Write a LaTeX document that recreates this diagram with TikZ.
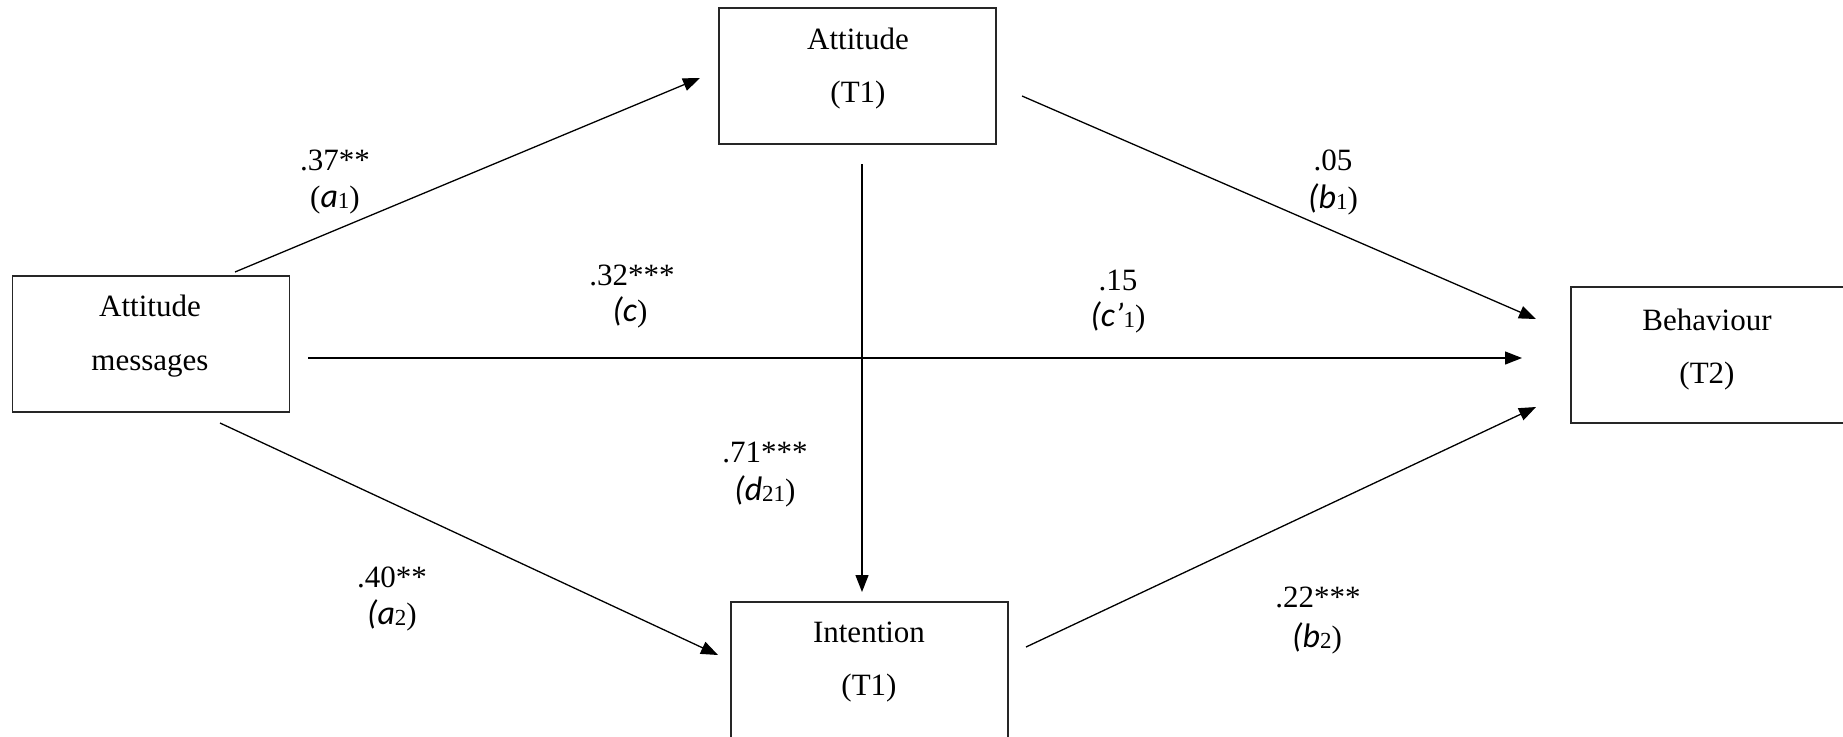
\documentclass[tikz,border=0pt]{standalone}
\usepackage{fontspec}
\setmainfont{Liberation Serif}
\newfontfamily\calibfont{Carlito}
\usetikzlibrary{arrows.meta}
\newcommand{\iv}[1]{{\fontsize{34}{36}\selectfont\calibfont\itshape #1}}
\newcommand{\sbs}[1]{\raisebox{-1pt}{\fontsize{23}{23}\selectfont #1}}
\begin{document}
\begin{tikzpicture}[x=1pt,y=-1pt,
  box/.style={draw=black!85, line width=1.5pt, minimum width=277pt, minimum height=136pt, inner sep=0pt},
  txt/.style={anchor=base, inner sep=0pt, font=\fontsize{31}{36}\selectfont},
  arr/.style={line width=1.3pt, -{Triangle[length=17pt,width=13pt]}}]
\path[use as bounding box, clip] (0,0) rectangle (1843,736);
\fill[white] (0,0) rectangle (1843,736);

% boxes
\node[box] (att) at (857.5,76) {};
\node[box] (msg) at (151,344) {};
\node[box] (beh) at (1709.5,355) {};
\node[box] (int) at (869.5,670) {};

% box texts
\node[txt] (attA) at (858,49) {Attitude};
\node[txt] (attB) at (858,102) {(T1)};
\node[txt] (msgA) at (150,316) {Attitude};
\node[txt] (msgB) at (150,370) {messages};
\node[txt] (behA) at (1707,330) {Behaviour};
\node[txt] (behB) at (1707,383) {(T2)};
\node[txt] (intA) at (869,642) {Intention};
\node[txt] (intB) at (869,695) {(T1)};

% connector end points
\coordinate (a1s) at (235,272);
\coordinate (a1e) at (700,78);
\coordinate (cs) at (308,358);
\coordinate (ce) at (1522,358);
\coordinate (a2s) at (220,423);
\coordinate (a2e) at (718,655);
\coordinate (b1s) at (1022,96);
\coordinate (b1e) at (1536,319);
\coordinate (b2s) at (1026,647);
\coordinate (b2e) at (1536,407);
\coordinate (ds) at (862,164);
\coordinate (de) at (862,592);

\draw[arr] (a1s) -- (a1e);
\draw[arr] (cs) -- (ce);
\draw[arr] (a2s) -- (a2e);
\draw[arr] (b1s) -- (b1e);
\draw[arr] (b2s) -- (b2e);
\draw[arr] (ds) -- (de);

% labels
\node[txt] (la1) at (335,170) {.37**};
\node[txt] (la1b) at (335,207) {(\iv{a}\sbs{1})};
\node[txt] (lc) at (632,285) {.32***};
\node[txt] (lcb) at (630,321) {\iv{(c})};
\node[txt] (lcp) at (1118,290) {.15};
\node[txt] (lcpb) at (1118,326) {\iv{(c’}\sbs{1})};
\node[txt] (lb1) at (1333,170) {.05};
\node[txt] (lb1b) at (1333,208) {\iv{(b}\sbs{1})};
\node[txt] (ld) at (765,462) {.71***};
\node[txt] (ldb) at (765,500) {\iv{(d}\sbs{21})};
\node[txt] (la2) at (392,587) {.40**};
\node[txt] (la2b) at (392,624) {\iv{(a}\sbs{2})};
\node[txt] (lb2) at (1318,607) {.22***};
\node[txt] (lb2b) at (1317,647) {\iv{(b}\sbs{2})};
\end{tikzpicture}
\end{document}
